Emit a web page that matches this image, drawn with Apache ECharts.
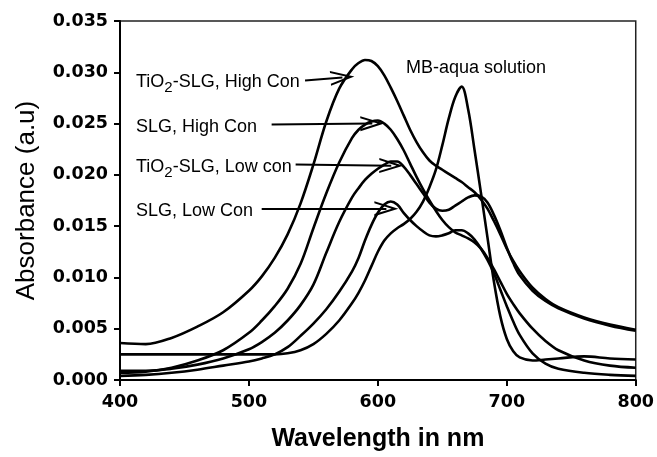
<!DOCTYPE html>
<html><head><meta charset="utf-8">
<script src="https://cdn.jsdelivr.net/npm/echarts@6/dist/echarts.min.js"></script>
<style>html,body{margin:0;padding:0;background:#fff}#c{width:657px;height:457px}</style>
</head><body><div id="c"></div>
<script>
const wavelengths = [400,420,440,460,480,500,510,520,530,540,550,560,570,580,585,590,595,600,605,610,615,620,625,630,635,640,645,650,655,660,665,670,675,680,685,690,695,700,705,710,720,730,740,760,780,800];
const tio2HighCon = [0.0036,0.0035,0.0041,0.0052,0.0066,0.0087,0.0101,0.0119,0.0142,0.0172,0.0210,0.0252,0.0284,0.0303,0.0309,0.0312,0.0311,0.0306,0.0297,0.0285,0.0272,0.0258,0.0244,0.0232,0.0222,0.0214,0.0209,0.0205,0.0201,0.0197,0.0193,0.0188,0.0183,0.0176,0.0167,0.0155,0.0142,0.0128,0.0116,0.0106,0.0090,0.0079,0.0071,0.0061,0.0054,0.0049];
const slgHighCon = [0.0007,0.0008,0.0012,0.0019,0.0029,0.0046,0.0058,0.0072,0.0089,0.0113,0.0148,0.0182,0.0212,0.0236,0.0244,0.0249,0.0252,0.0253,0.0250,0.0244,0.0235,0.0224,0.0211,0.0198,0.0186,0.0175,0.0165,0.0156,0.0149,0.0144,0.0141,0.0138,0.0134,0.0128,0.0119,0.0108,0.0096,0.0084,0.0074,0.0065,0.0050,0.0038,0.0029,0.0019,0.0014,0.0012];
const tio2LowCon = [0.0009,0.0009,0.0011,0.0015,0.0021,0.0030,0.0037,0.0046,0.0058,0.0073,0.0093,0.0124,0.0154,0.0178,0.0187,0.0195,0.0201,0.0206,0.0210,0.0213,0.0213,0.0208,0.0200,0.0191,0.0182,0.0173,0.0167,0.0165,0.0166,0.0170,0.0174,0.0178,0.0180,0.0179,0.0173,0.0161,0.0146,0.0129,0.0114,0.0102,0.0087,0.0077,0.0070,0.0060,0.0053,0.0048];
const slgLowCon = [0.0004,0.0005,0.0007,0.0010,0.0014,0.0018,0.0021,0.0025,0.0032,0.0043,0.0055,0.0069,0.0086,0.0106,0.0119,0.0136,0.0151,0.0163,0.0171,0.0174,0.0171,0.0163,0.0156,0.0150,0.0145,0.0141,0.0140,0.0141,0.0143,0.0146,0.0146,0.0143,0.0137,0.0128,0.0117,0.0104,0.0088,0.0072,0.0057,0.0044,0.0026,0.0016,0.0011,0.0007,0.0005,0.0004];
const mbAqua = [0.0025,0.0025,0.0025,0.0025,0.0025,0.0025,0.0025,0.0025,0.0026,0.0029,0.0035,0.0045,0.0058,0.0075,0.0085,0.0097,0.0111,0.0125,0.0136,0.0143,0.0148,0.0152,0.0157,0.0164,0.0174,0.0188,0.0205,0.0229,0.0255,0.0276,0.0286,0.0264,0.0224,0.0182,0.0139,0.0096,0.0062,0.0040,0.0028,0.0022,0.0019,0.0020,0.0021,0.0023,0.0021,0.0020];
const seriesNames = ['TiO2-SLG, High Con','SLG, High Con','TiO2-SLG, Low con','SLG, Low Con','MB-aqua solution'];
const xTicks = [400,500,600,700,800];
const yTicks = [0,0.005,0.010,0.015,0.020,0.025,0.030,0.035];
// annotation arrows: [x1,y1,x2,y2] in data units
const arrows = [
  [543.5,0.0292,572.5,0.0295],
  [517.6,0.0249,595.7,0.0250],
  [536.2,0.0210,610.4,0.0209],
  [509.9,0.0167,606.6,0.0167]
];

const allSeries = [tio2HighCon, slgHighCon, tio2LowCon, slgLowCon, mbAqua];
const arrowPath = 'path://M50,0 L100,160 L86,160 L50,45 L14,160 L0,160 Z';
const chart = echarts.init(document.getElementById('c'), null, {renderer:'canvas'});
const series = allSeries.map((vals, i) => ({
  name: seriesNames[i], type:'line', showSymbol:false, symbol:'none', smooth:0.35,
  lineStyle:{color:'#000', width:2.6}, data: wavelengths.map((w,j)=>[w, vals[j]]),
  z: 3
}));
series[0].markLine = {
  silent:true, animation:false, symbol:['none', arrowPath], symbolSize:[15,24],
  lineStyle:{color:'#000', width:2, type:'solid'}, label:{show:false},
  data: arrows.map(a => [{coord:[a[0],a[1]]},{coord:[a[2],a[3]]}])
};
const rich = { n:{fontFamily:'Liberation Sans, Arial, sans-serif', fontSize:18, color:'#000'}, s:{fontFamily:'Liberation Sans, Arial, sans-serif', fontSize:15, color:'#000', padding:[11,0,0,0]} };
chart.setOption({
  animation:false,
  grid:{left:120, right:20, top:21, bottom:74, show:true, borderColor:'#222', borderWidth:1.5},
  xAxis:{type:'value', min:xTicks[0], max:xTicks[xTicks.length-1], interval:100,
    axisLine:{show:true, onZero:false, lineStyle:{color:'#000', width:2}},
    axisTick:{show:true, length:6, lineStyle:{color:'#000', width:2}},
    splitLine:{show:false},
    axisLabel:{color:'#000', fontFamily:'DejaVu Sans', fontWeight:'bold', fontSize:17.5, margin:13},
    name:'Wavelength in nm', nameLocation:'middle', nameGap:47,
    nameTextStyle:{color:'#000', fontFamily:'Liberation Sans, Arial', fontWeight:'bold', fontSize:25}},
  yAxis:{type:'value', min:yTicks[0], max:yTicks[yTicks.length-1], interval:0.005,
    axisLine:{show:true, lineStyle:{color:'#000', width:2}},
    axisTick:{show:true, length:6, lineStyle:{color:'#000', width:2}},
    splitLine:{show:false},
    axisLabel:{color:'#000', fontFamily:'DejaVu Sans', fontWeight:'bold', fontSize:17.5, margin:12, formatter:v=>v.toFixed(3)},
    name:'Absorbance (a.u)', nameLocation:'middle', nameGap:80, nameRotate:90,
    nameTextStyle:{color:'#000', fontFamily:'Liberation Sans, Arial', fontWeight:'normal', fontSize:26}},
  graphic:[
    {type:'text', left:136, top:73, z:10, style:{text:'{n|TiO}{s|2}{n|-SLG, High Con}', rich:rich}},
    {type:'text', left:136, top:118, z:10, style:{text:'{n|SLG, High Con}', rich:rich}},
    {type:'text', left:136, top:158, z:10, style:{text:'{n|TiO}{s|2}{n|-SLG, Low con}', rich:rich}},
    {type:'text', left:136, top:202, z:10, style:{text:'{n|SLG, Low Con}', rich:rich}},
    {type:'text', left:406, top:59, z:10, style:{text:'{n|MB-aqua solution}', rich:rich}}
  ],
  series: series
});
</script></body></html>
